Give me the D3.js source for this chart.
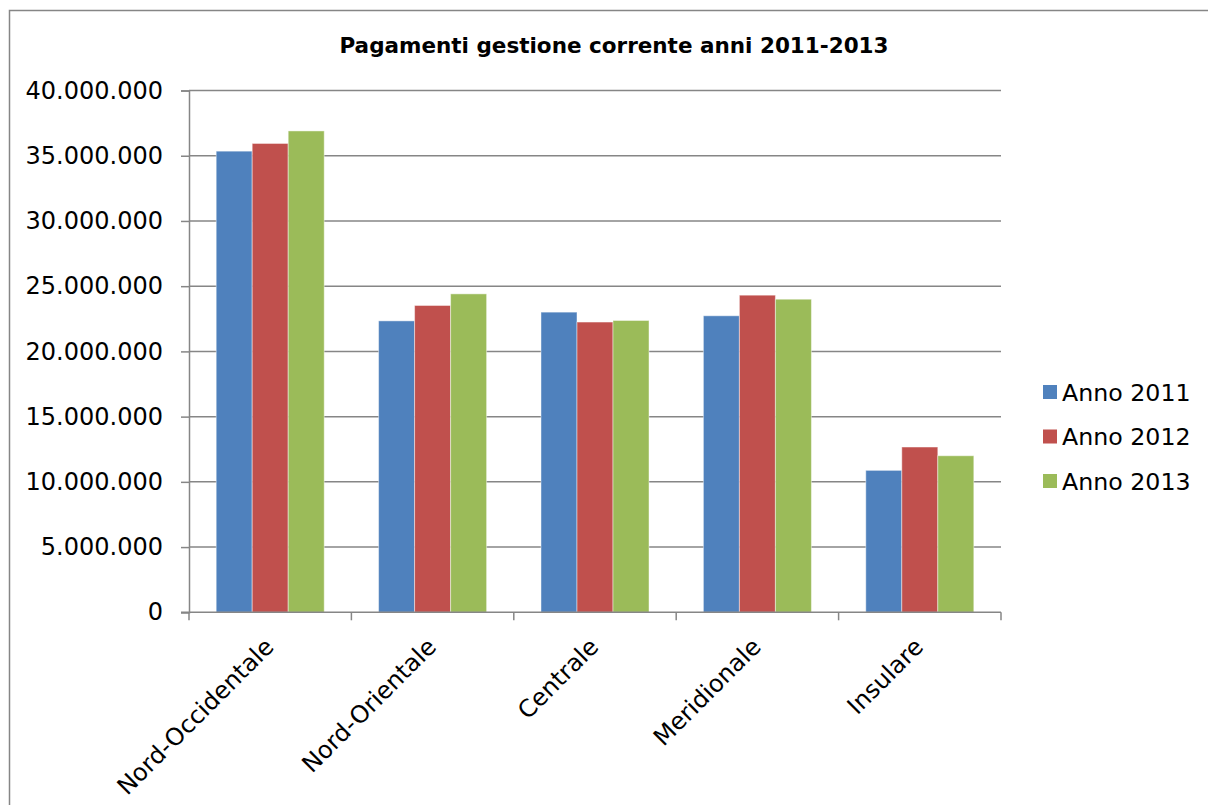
<!DOCTYPE html>
<html>
<head>
<meta charset="utf-8">
<script src="https://cdn.jsdelivr.net/npm/d3@7"></script>
<style>
  html, body { margin: 0; padding: 0; background: #fff; }
  svg { display: block; font-family: "DejaVu Sans", Verdana, sans-serif; }
</style>
</head>
<body>
<svg id="chart" width="1208" height="805"></svg>
<script>
// Regions (categories on the x axis)
const categories = ["Nord-Occidentale", "Nord-Orientale", "Centrale", "Meridionale", "Insulare"];
// Series names
const seriesNames = ["Anno 2011", "Anno 2012", "Anno 2013"];
// Current-management payments per region, one array per year
const anno2011 = [35350000, 22340000, 23010000, 22730000, 10880000];
const anno2012 = [35940000, 23520000, 22250000, 24310000, 12670000];
const anno2013 = [36900000, 24410000, 22370000, 24000000, 12000000];
// Y axis ticks
const yTicks = [0, 5000000, 10000000, 15000000, 20000000, 25000000, 30000000, 35000000, 40000000];
const seriesColors = ["#4F81BD", "#C0504D", "#9BBB59"];

const seriesValues = [anno2011, anno2012, anno2013];

const svg = d3.select("#chart");
const W = 1208, H = 805;
const plot = { left: 189, right: 1001, top: 90.5, bottom: 612.3 };
const gridColor = "#868686";

// outer chart frame
svg.append("rect")
  .attr("x", 9.5).attr("y", 10.5)
  .attr("width", W + 20).attr("height", H + 20)
  .attr("fill", "#fff")
  .attr("stroke", gridColor).attr("stroke-width", 1.5);

// title
svg.append("text")
  .attr("x", 614).attr("y", 53)
  .attr("text-anchor", "middle")
  .attr("font-weight", "bold")
  .attr("font-size", 21.5)
  .attr("fill", "#000")
  .text("Pagamenti gestione corrente anni 2011-2013");

const x = d3.scaleBand().domain(categories).range([plot.left, plot.right]).paddingInner(0).paddingOuter(0);
const groupInner = d3.scaleBand().domain(seriesNames).range([0, x.bandwidth()]).paddingInner(0).paddingOuter(0.755);
const y = d3.scaleLinear().domain([0, 40000000]).range([plot.bottom, plot.top]);

const fmt = v => d3.format(",")(v).replace(/,/g, ".");

// horizontal gridlines
svg.append("g").selectAll("line")
  .data(yTicks.filter(d => d > 0))
  .join("line")
  .attr("x1", plot.left).attr("x2", plot.right)
  .attr("y1", d => y(d)).attr("y2", d => y(d))
  .attr("stroke", gridColor).attr("stroke-width", 1.5);

// y axis
const yAxis = d3.axisLeft(y).tickValues(yTicks).tickFormat(fmt).tickSize(8).tickPadding(18);
const gy = svg.append("g").attr("transform", `translate(${plot.left},0)`).call(yAxis);
gy.select(".domain").attr("stroke", gridColor).attr("stroke-width", 1.5);
gy.selectAll(".tick line").attr("stroke", gridColor).attr("stroke-width", 1.5);
gy.selectAll(".tick text").attr("font-size", 24).attr("fill", "#000")
  .attr("font-family", "DejaVu Sans, Verdana, sans-serif");

// bars
const rows = categories.map((c, i) => ({ cat: c, vals: seriesValues.map((s, k) => ({ name: seriesNames[k], v: s[i], k })) }));
svg.append("g").selectAll("g")
  .data(rows)
  .join("g")
  .attr("transform", d => `translate(${x(d.cat)},0)`)
  .selectAll("rect")
  .data(d => d.vals)
  .join("rect")
  .attr("x", d => groupInner(d.name))
  .attr("width", groupInner.bandwidth())
  .attr("y", d => y(d.v))
  .attr("height", d => y(0) - y(d.v))
  .attr("fill", d => seriesColors[d.k])
  .attr("stroke", "rgba(255,255,255,0.45)")
  .attr("stroke-width", 1);

// x axis with ticks between categories
const gx = svg.append("g").attr("transform", `translate(0,${plot.bottom})`);
gx.append("line").attr("x1", plot.left - 8).attr("x2", plot.right)
  .attr("y1", 0).attr("y2", 0).attr("stroke", gridColor).attr("stroke-width", 1.5);
const boundaries = d3.range(categories.length + 1).map(i => plot.left + i * x.step());
gx.selectAll("line.tk").data(boundaries).join("line").attr("class", "tk")
  .attr("x1", d => d).attr("x2", d => d).attr("y1", 0).attr("y2", 8)
  .attr("stroke", gridColor).attr("stroke-width", 1.5);
gx.selectAll("text").data(categories).join("text")
  .attr("transform", d => `translate(${x(d) + x.bandwidth() / 2 + 5},${36}) rotate(-45)`)
  .attr("text-anchor", "end")
  .attr("font-size", 24)
  .attr("fill", "#000")
  .text(d => d);

// legend
const legend = svg.append("g").selectAll("g")
  .data(seriesNames)
  .join("g")
  .attr("transform", (d, i) => `translate(1043,${385 + i * 44.5})`);
legend.append("rect").attr("width", 14).attr("height", 14).attr("fill", (d, i) => seriesColors[i]);
legend.append("text").attr("x", 19).attr("y", 15.5).attr("font-size", 23.7).attr("fill", "#000").text(d => d);
</script>
</body>
</html>
